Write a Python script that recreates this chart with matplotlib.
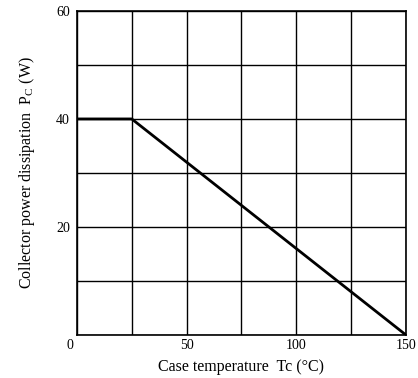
import matplotlib
matplotlib.use("Agg")
import matplotlib.pyplot as plt

# Derating curve points (case temperature in degC, power in W)
temp_c = [0, 25, 150]
power_w = [40, 40, 0]

x_ticks = [50, 100, 150]
y_ticks = [20, 40, 60]
x_grid = [0, 25, 50, 75, 100, 125, 150]
y_grid = [0, 10, 20, 30, 40, 50, 60]

plt.rcParams['font.family'] = ['Liberation Serif', 'DejaVu Serif']

fig = plt.figure(figsize=(4.18, 3.78), dpi=100)
ax = fig.add_axes([0.184, 0.114, 0.787, 0.857])

for x in x_grid:
    ax.axvline(x, color='black', lw=1.0, zorder=1)
for y in y_grid:
    ax.axhline(y, color='black', lw=1.0, zorder=1)

ax.plot(temp_c, power_w, color='black', lw=2.0, zorder=3)

ax.set_xlim(0, 150)
ax.set_ylim(0, 60)
ax.set_xticks(x_ticks)
ax.set_yticks(y_ticks)
ax.tick_params(axis='x', length=0, labelsize=10, pad=3)
ax.tick_params(axis='y', length=0, labelsize=10, pad=5)
for s in ax.spines.values():
    s.set_linewidth(1.2)

# corner "0" label shared by both axes
ax.annotate('0', xy=(0, 0), xytext=(-5, -3), textcoords='offset points',
            ha='center', va='top', fontsize=10)

ax.set_xlabel('Case temperature  Tc (°C)', fontsize=11.5, labelpad=5)
ax.set_ylabel('Collector power dissipation  P$_\\mathregular{C}$ (W)', fontsize=11.5, labelpad=14)

fig.savefig('out.png', dpi=100)
